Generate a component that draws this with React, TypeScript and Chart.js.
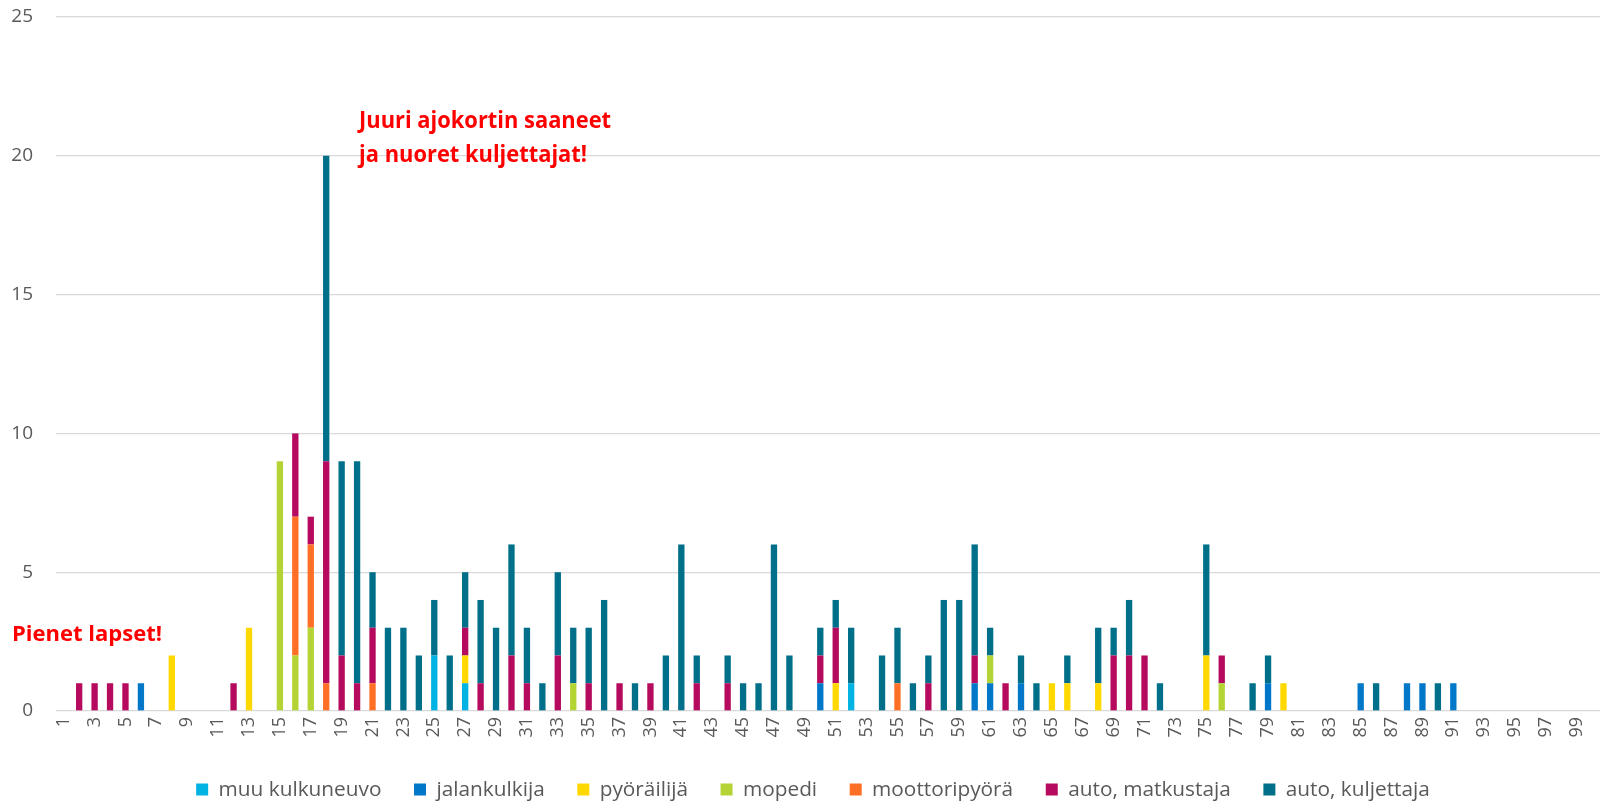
import React, { useEffect, useRef } from 'react';
import { Chart, registerables } from 'chart.js';

Chart.register(...registerables);

// Categories: age 1..100
const ages: string[] = Array.from({ length: 100 }, (_, i) => String(i + 1));

const seriesNames = [
  'muu kulkuneuvo',
  'jalankulkija',
  'pyöräilijä',
  'mopedi',
  'moottoripyörä',
  'auto, matkustaja',
  'auto, kuljettaja',
];

const seriesColors = ['#00B3E3', '#0077C8', '#FFD800', '#B4D335', '#FF7026', '#B50A5E', '#00708A'];

// values per age (index 0 = age 1)
const muuKulkuneuvo = [
  0, 0, 0, 0, 0, 0, 0, 0, 0, 0,
  0, 0, 0, 0, 0, 0, 0, 0, 0, 0,
  0, 0, 0, 0, 2, 0, 1, 0, 0, 0,
  0, 0, 0, 0, 0, 0, 0, 0, 0, 0,
  0, 0, 0, 0, 0, 0, 0, 0, 0, 0,
  0, 1, 0, 0, 0, 0, 0, 0, 0, 0,
  0, 0, 0, 0, 0, 0, 0, 0, 0, 0,
  0, 0, 0, 0, 0, 0, 0, 0, 0, 0,
  0, 0, 0, 0, 0, 0, 0, 0, 0, 0,
  0, 0, 0, 0, 0, 0, 0, 0, 0, 0,
];

const jalankulkija = [
  0, 0, 0, 0, 0, 1, 0, 0, 0, 0,
  0, 0, 0, 0, 0, 0, 0, 0, 0, 0,
  0, 0, 0, 0, 0, 0, 0, 0, 0, 0,
  0, 0, 0, 0, 0, 0, 0, 0, 0, 0,
  0, 0, 0, 0, 0, 0, 0, 0, 0, 1,
  0, 0, 0, 0, 0, 0, 0, 0, 0, 1,
  1, 0, 1, 0, 0, 0, 0, 0, 0, 0,
  0, 0, 0, 0, 0, 0, 0, 0, 1, 0,
  0, 0, 0, 0, 1, 0, 0, 1, 1, 0,
  1, 0, 0, 0, 0, 0, 0, 0, 0, 0,
];

const pyorailija = [
  0, 0, 0, 0, 0, 0, 0, 2, 0, 0,
  0, 0, 3, 0, 0, 0, 0, 0, 0, 0,
  0, 0, 0, 0, 0, 0, 1, 0, 0, 0,
  0, 0, 0, 0, 0, 0, 0, 0, 0, 0,
  0, 0, 0, 0, 0, 0, 0, 0, 0, 0,
  1, 0, 0, 0, 0, 0, 0, 0, 0, 0,
  0, 0, 0, 0, 1, 1, 0, 1, 0, 0,
  0, 0, 0, 0, 2, 0, 0, 0, 0, 1,
  0, 0, 0, 0, 0, 0, 0, 0, 0, 0,
  0, 0, 0, 0, 0, 0, 0, 0, 0, 0,
];

const mopedi = [
  0, 0, 0, 0, 0, 0, 0, 0, 0, 0,
  0, 0, 0, 0, 9, 2, 3, 0, 0, 0,
  0, 0, 0, 0, 0, 0, 0, 0, 0, 0,
  0, 0, 0, 1, 0, 0, 0, 0, 0, 0,
  0, 0, 0, 0, 0, 0, 0, 0, 0, 0,
  0, 0, 0, 0, 0, 0, 0, 0, 0, 0,
  1, 0, 0, 0, 0, 0, 0, 0, 0, 0,
  0, 0, 0, 0, 0, 1, 0, 0, 0, 0,
  0, 0, 0, 0, 0, 0, 0, 0, 0, 0,
  0, 0, 0, 0, 0, 0, 0, 0, 0, 0,
];

const moottoripyora = [
  0, 0, 0, 0, 0, 0, 0, 0, 0, 0,
  0, 0, 0, 0, 0, 5, 3, 1, 0, 0,
  1, 0, 0, 0, 0, 0, 0, 0, 0, 0,
  0, 0, 0, 0, 0, 0, 0, 0, 0, 0,
  0, 0, 0, 0, 0, 0, 0, 0, 0, 0,
  0, 0, 0, 0, 1, 0, 0, 0, 0, 0,
  0, 0, 0, 0, 0, 0, 0, 0, 0, 0,
  0, 0, 0, 0, 0, 0, 0, 0, 0, 0,
  0, 0, 0, 0, 0, 0, 0, 0, 0, 0,
  0, 0, 0, 0, 0, 0, 0, 0, 0, 0,
];

const autoMatkustaja = [
  0, 1, 1, 1, 1, 0, 0, 0, 0, 0,
  0, 1, 0, 0, 0, 3, 1, 8, 2, 1,
  2, 0, 0, 0, 0, 0, 1, 1, 0, 2,
  1, 0, 2, 0, 1, 0, 1, 0, 1, 0,
  0, 1, 0, 1, 0, 0, 0, 0, 0, 1,
  2, 0, 0, 0, 0, 0, 1, 0, 0, 1,
  0, 1, 0, 0, 0, 0, 0, 0, 2, 2,
  2, 0, 0, 0, 0, 1, 0, 0, 0, 0,
  0, 0, 0, 0, 0, 0, 0, 0, 0, 0,
  0, 0, 0, 0, 0, 0, 0, 0, 0, 0,
];

const autoKuljettaja = [
  0, 0, 0, 0, 0, 0, 0, 0, 0, 0,
  0, 0, 0, 0, 0, 0, 0, 11, 7, 8,
  2, 3, 3, 2, 2, 2, 2, 3, 3, 4,
  2, 1, 3, 2, 2, 4, 0, 1, 0, 2,
  6, 1, 0, 1, 1, 1, 6, 2, 0, 1,
  1, 2, 0, 2, 2, 1, 1, 4, 4, 4,
  1, 0, 1, 1, 0, 1, 0, 2, 1, 2,
  0, 1, 0, 0, 4, 0, 0, 1, 1, 0,
  0, 0, 0, 0, 0, 1, 0, 0, 0, 1,
  0, 0, 0, 0, 0, 0, 0, 0, 0, 0,
];

const seriesValues = [muuKulkuneuvo, jalankulkija, pyorailija, mopedi, moottoripyora, autoMatkustaja, autoKuljettaja];

const noteYoung = ['Juuri ajokortin saaneet', 'ja nuoret kuljettajat!'];
const noteKids = 'Pienet lapset!';

const FONT = '"Open Sans", "Noto Sans", sans-serif';

export default function App() {
  const ref = useRef<HTMLCanvasElement>(null);

  useEffect(() => {
    const annot = {
      id: 'annot',
      afterLayout(chart: any) {
        if (chart.legend) {
          chart.legend.left += 13;
          chart.legend.right += 13;
        }
      },
      afterDraw(chart: any) {
        const ctx = chart.ctx as CanvasRenderingContext2D;
        const xs = chart.scales.x;
        const ys = chart.scales.y;
        ctx.save();
        ctx.fillStyle = '#FF0000';
        ctx.textBaseline = 'alphabetic';
        ctx.textAlign = 'left';
        ctx.font = `bold 22.5px ${FONT}`;
        const sx = 252 / ctx.measureText(noteYoung[0]).width;
        const x1 = xs.getPixelForValue(19) + 2;
        const yb = ys.getPixelForValue(21);
        noteYoung.forEach((line, i) => {
          ctx.save();
          ctx.translate(x1, yb + i * 34);
          ctx.scale(sx, 1);
          ctx.fillText(line, 0, 0);
          ctx.restore();
        });
        ctx.font = `bold 21px ${FONT}`;
        const sx2 = 150 / ctx.measureText(noteKids).width;
        ctx.save();
        ctx.translate(12, ys.getPixelForValue(2.53));
        ctx.scale(sx2, 1);
        ctx.fillText(noteKids, 0, 0);
        ctx.restore();
        ctx.restore();
      },
    };

    const chart = new Chart(ref.current!, {
      type: 'bar',
      data: {
        labels: ages,
        datasets: seriesNames.map((name, i) => ({
          label: name,
          data: seriesValues[i],
          backgroundColor: seriesColors[i],
          borderWidth: 0,
          barPercentage: 0.41,
          categoryPercentage: 1,
        })),
      },
      options: {
        responsive: false,
        animation: false,
        devicePixelRatio: 1,
        layout: { padding: { left: 0, top: 17, right: 0, bottom: 0 } },
        plugins: {
          legend: {
            position: 'bottom',
            labels: {
              boxWidth: 12,
              boxHeight: 12,
              padding: 32.6,
              color: '#595959',
              font: { family: FONT, size: 20.8 },
            },
          },
          tooltip: { enabled: false },
        },
        scales: {
          x: {
            stacked: true,
            grid: { display: false, drawTicks: false },
            border: { display: false },
            ticks: {
              autoSkip: false,
              minRotation: 90,
              maxRotation: 90,
              padding: 6,
              color: '#595959',
              font: { family: FONT, size: 18 },
              callback: (_v: any, i: number) => (i % 2 === 0 ? ages[i] : ''),
            },
            afterFit: (s: any) => {
              s.height = 35.6;
              s.paddingLeft = 0;
              s.paddingRight = 0;
            },
          },
          y: {
            stacked: true,
            min: 0,
            max: 25,
            ticks: {
              stepSize: 5,
              padding: 23,
              color: '#595959',
              font: { family: FONT, size: 19 },
            },
            grid: { color: '#D9D9D9', lineWidth: 1.3, drawTicks: false },
            border: { display: false },
            afterFit: (s: any) => {
              s.width = 56;
              s.paddingTop = 0;
              s.paddingBottom = 0;
            },
          },
        },
      },
      plugins: [annot],
    });
    return () => chart.destroy();
  }, []);

  return (
    <div
      style={{
        position: 'fixed',
        left: 0,
        top: 0,
        width: 1600,
        height: 803,
        overflow: 'hidden',
        background: '#fff',
      }}
    >
      <canvas ref={ref} width={1600} height={810} style={{ display: 'block' }} />
    </div>
  );
}
